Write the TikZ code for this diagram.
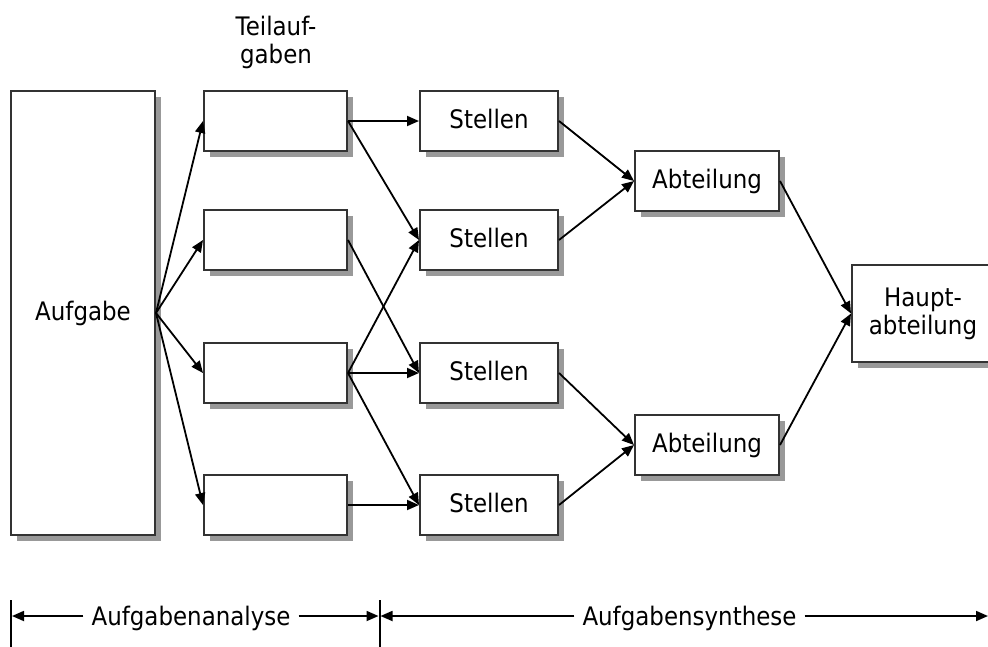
\documentclass[tikz,border=0pt]{standalone}
\usepackage{fontspec}
\setmainfont{DejaVu Sans}[FakeStretch=0.9]
\usetikzlibrary{shadows,arrows.meta}
\definecolor{boxline}{HTML}{333333}
\definecolor{shade}{HTML}{999999}
\begin{document}
\begin{tikzpicture}[x=1pt,y=-1pt,
  font=\fontsize{25.5}{28}\selectfont,
  box/.style={draw=boxline,line width=2pt,fill=white,inner sep=0pt,
    text height=18pt,text depth=3pt,
    drop shadow={shadow xshift=6pt,shadow yshift=-6pt,opacity=1,fill=shade}},
  teil/.style={box,minimum width=143pt,minimum height=60pt},
  stelle/.style={box,minimum width=138pt,minimum height=60pt},
  abt/.style={box,minimum width=144pt,minimum height=60pt},
  link/.style={line width=1.8pt,-{Triangle[length=12pt,width=10pt]}},
  bar/.style={line width=2pt},
  dimtext/.style={inner sep=8pt,text height=18pt,text depth=0pt}]
\useasboundingbox (0,0) rectangle (988,646);

% task and sub-tasks
\node[box,minimum width=144pt,minimum height=444pt] (auf) at (83,313) {Aufgabe};
\node[align=center] (tlab) at (276,42) {Teilauf-\\gaben};
\node[teil] (t1) at (275.5,121) {};
\node[teil] (t2) at (275.5,240) {};
\node[teil] (t3) at (275.5,373) {};
\node[teil] (t4) at (275.5,505) {};

% positions
\node[stelle] (s1) at (489,121) {Stellen};
\node[stelle] (s2) at (489,240) {Stellen};
\node[stelle] (s3) at (489,373) {Stellen};
\node[stelle] (s4) at (489,505) {Stellen};

% departments
\node[abt] (a1) at (707,181) {Abteilung};
\node[abt] (a2) at (707,445) {Abteilung};
\node[box,minimum width=142pt,minimum height=97pt,align=center,
      text height=,text depth=] (h) at (923,313.5) {Haupt-\\abteilung};

% analysis
\foreach \t in {t1,t2,t3,t4}
  \draw[link] (auf.east) -- (\t.west);

% synthesis
\draw[link] (t1.east) -- (s1.west);
\draw[link] (t1.east) -- (s2.west);
\draw[link] (t2.east) -- (s3.west);
\draw[link] (t3.east) -- (s2.west);
\draw[link] (t3.east) -- (s3.west);
\draw[link] (t3.east) -- (s4.west);
\draw[link] (t4.east) -- (s4.west);
\draw[link] (s1.east) -- (a1.west);
\draw[link] (s2.east) -- (a1.west);
\draw[link] (s3.east) -- (a2.west);
\draw[link] (s4.east) -- (a2.west);
\draw[link] (a1.east) -- (h.west);
\draw[link] (a2.east) -- (h.west);

% phase ruler
\coordinate (barL) at (11,616);
\coordinate (barM) at (379.5,616);
\coordinate (barR) at (988,616);
\draw[bar] ([yshift=16pt]barL) -- ([yshift=-32pt]barL);
\draw[bar] ([yshift=16pt]barM) -- ([yshift=-32pt]barM);
\node[dimtext] (ana) at (191,616) {Aufgabenanalyse};
\node[dimtext] (syn) at (689.5,616) {Aufgabensynthese};
\draw[link] (ana.west) -- ([xshift=1pt]barL);
\draw[link] (ana.east) -- ([xshift=-1pt]barM);
\draw[link] (syn.west) -- ([xshift=1pt]barM);
\draw[link] (syn.east) -- (barR);
\end{tikzpicture}
\end{document}
